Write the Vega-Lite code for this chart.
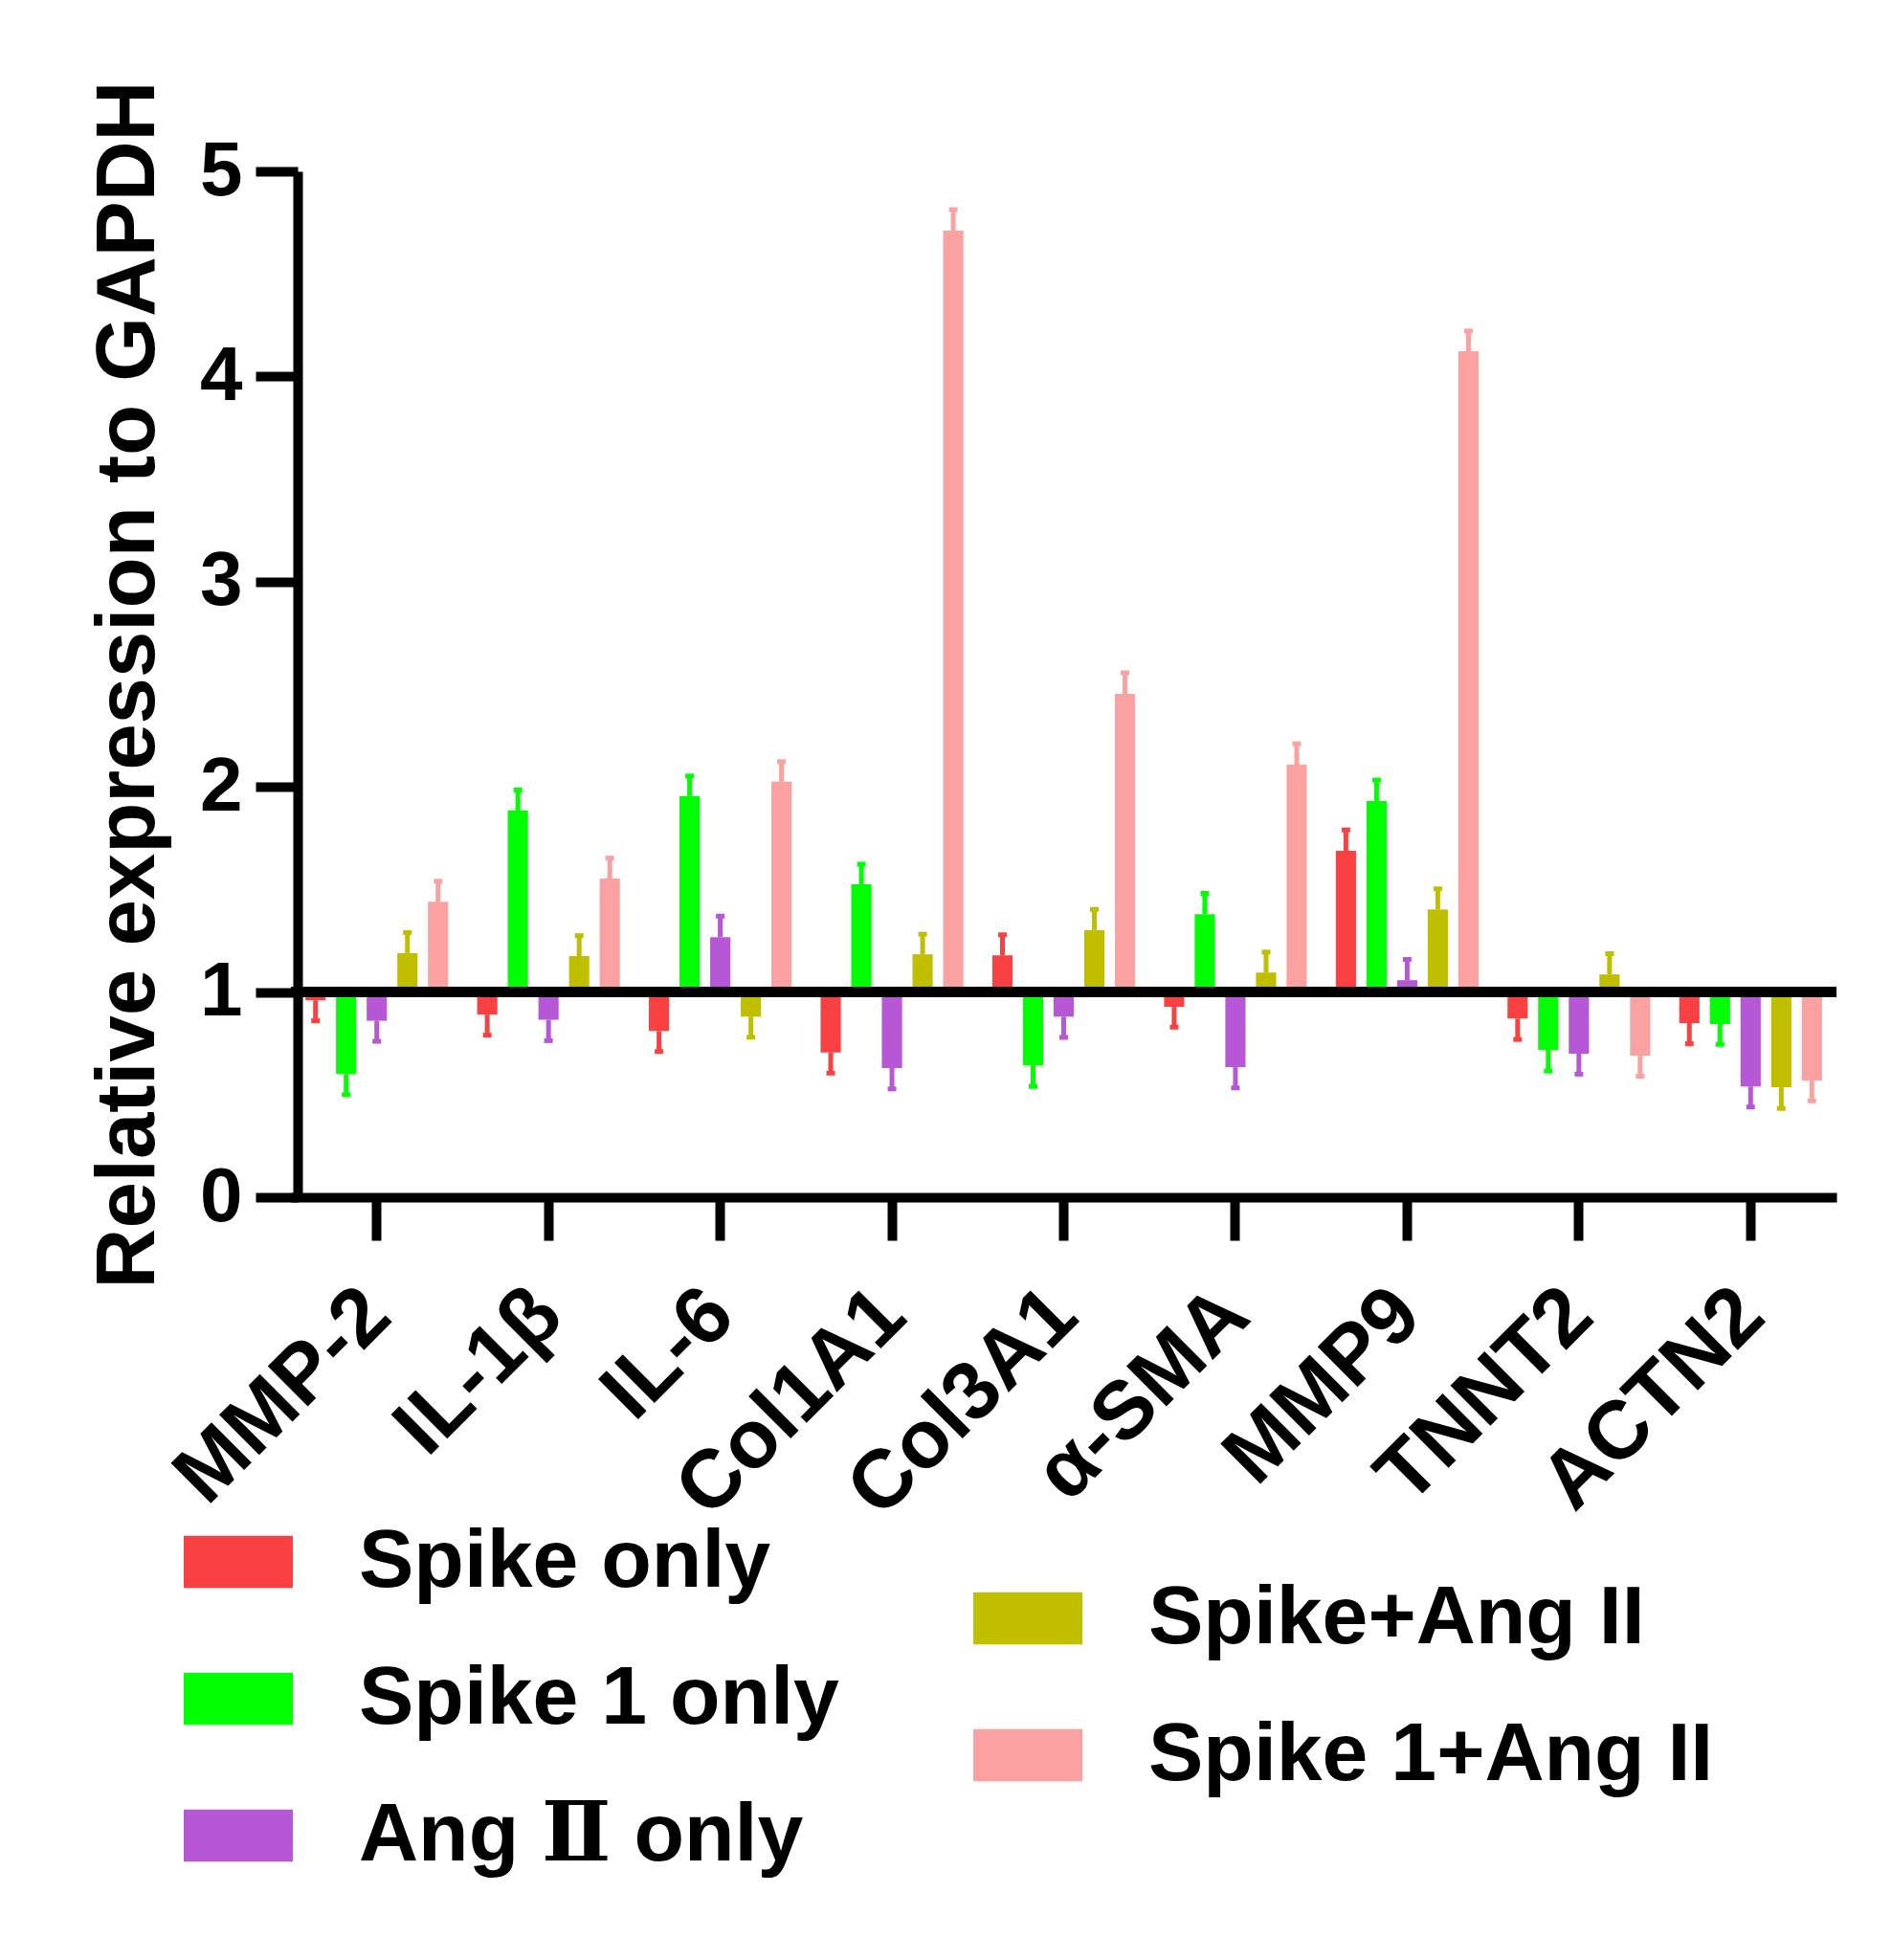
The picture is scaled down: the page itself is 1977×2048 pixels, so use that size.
{
  "$schema": "https://vega.github.io/schema/vega-lite/v6.json",
  "width": 1615,
  "height": 1072,
  "autosize": "none",
  "padding": {"left": 304, "top": 179, "right": 58, "bottom": 797},
  "background": "white",
  "config": {"view": {"stroke": null}, "font": "Liberation Sans"},
  "data": {
    "values": [
      {"gene": "MMP-2", "group": "Spike only", "value": 0.96, "cap": 0.86},
      {"gene": "MMP-2", "group": "Spike 1 only", "value": 0.60, "cap": 0.50},
      {"gene": "MMP-2", "group": "Ang Ⅱ only", "value": 0.86, "cap": 0.76},
      {"gene": "MMP-2", "group": "Spike+Ang II", "value": 1.19, "cap": 1.29},
      {"gene": "MMP-2", "group": "Spike 1+Ang II", "value": 1.44, "cap": 1.54},
      {"gene": "IL-1β", "group": "Spike only", "value": 0.89, "cap": 0.79},
      {"gene": "IL-1β", "group": "Spike 1 only", "value": 1.885, "cap": 1.985},
      {"gene": "IL-1β", "group": "Ang Ⅱ only", "value": 0.865, "cap": 0.763},
      {"gene": "IL-1β", "group": "Spike+Ang II", "value": 1.175, "cap": 1.275},
      {"gene": "IL-1β", "group": "Spike 1+Ang II", "value": 1.553, "cap": 1.653},
      {"gene": "IL-6", "group": "Spike only", "value": 0.81, "cap": 0.71},
      {"gene": "IL-6", "group": "Spike 1 only", "value": 1.955, "cap": 2.053},
      {"gene": "IL-6", "group": "Ang Ⅱ only", "value": 1.268, "cap": 1.37},
      {"gene": "IL-6", "group": "Spike+Ang II", "value": 0.88, "cap": 0.78},
      {"gene": "IL-6", "group": "Spike 1+Ang II", "value": 2.025, "cap": 2.123},
      {"gene": "Col1A1", "group": "Spike only", "value": 0.705, "cap": 0.605},
      {"gene": "Col1A1", "group": "Spike 1 only", "value": 1.525, "cap": 1.623},
      {"gene": "Col1A1", "group": "Ang Ⅱ only", "value": 0.63, "cap": 0.528},
      {"gene": "Col1A1", "group": "Spike+Ang II", "value": 1.184, "cap": 1.282},
      {"gene": "Col1A1", "group": "Spike 1+Ang II", "value": 4.711, "cap": 4.813},
      {"gene": "Col3A1", "group": "Spike only", "value": 1.179, "cap": 1.279},
      {"gene": "Col3A1", "group": "Spike 1 only", "value": 0.643, "cap": 0.54},
      {"gene": "Col3A1", "group": "Ang Ⅱ only", "value": 0.88, "cap": 0.779},
      {"gene": "Col3A1", "group": "Spike+Ang II", "value": 1.302, "cap": 1.403},
      {"gene": "Col3A1", "group": "Spike 1+Ang II", "value": 2.453, "cap": 2.556},
      {"gene": "α-SMA", "group": "Spike only", "value": 0.928, "cap": 0.829},
      {"gene": "α-SMA", "group": "Spike 1 only", "value": 1.38, "cap": 1.481},
      {"gene": "α-SMA", "group": "Ang Ⅱ only", "value": 0.634, "cap": 0.533},
      {"gene": "α-SMA", "group": "Spike+Ang II", "value": 1.095, "cap": 1.195},
      {"gene": "α-SMA", "group": "Spike 1+Ang II", "value": 2.108, "cap": 2.21},
      {"gene": "MMP9", "group": "Spike only", "value": 1.688, "cap": 1.79},
      {"gene": "MMP9", "group": "Spike 1 only", "value": 1.931, "cap": 2.033},
      {"gene": "MMP9", "group": "Ang Ⅱ only", "value": 1.058, "cap": 1.159},
      {"gene": "MMP9", "group": "Spike+Ang II", "value": 1.403, "cap": 1.503},
      {"gene": "MMP9", "group": "Spike 1+Ang II", "value": 4.123, "cap": 4.222},
      {"gene": "TNNT2", "group": "Spike only", "value": 0.871, "cap": 0.769},
      {"gene": "TNNT2", "group": "Spike 1 only", "value": 0.718, "cap": 0.615},
      {"gene": "TNNT2", "group": "Ang Ⅱ only", "value": 0.70, "cap": 0.60},
      {"gene": "TNNT2", "group": "Spike+Ang II", "value": 1.086, "cap": 1.187},
      {"gene": "TNNT2", "group": "Spike 1+Ang II", "value": 0.69, "cap": 0.59},
      {"gene": "ACTN2", "group": "Spike only", "value": 0.849, "cap": 0.748},
      {"gene": "ACTN2", "group": "Spike 1 only", "value": 0.844, "cap": 0.745},
      {"gene": "ACTN2", "group": "Ang Ⅱ only", "value": 0.54, "cap": 0.44},
      {"gene": "ACTN2", "group": "Spike+Ang II", "value": 0.536, "cap": 0.433},
      {"gene": "ACTN2", "group": "Spike 1+Ang II", "value": 0.569, "cap": 0.47}
    ]
  },
  "resolve": {"scale": {"color": "independent"}},
  "layer": [
    {
      "transform": [{"filter": {"field": "group", "oneOf": ["Spike only", "Spike 1 only", "Ang Ⅱ only"]}}],
      "encoding": {
        "x": {
          "field": "gene", "type": "nominal",
          "scale": {"domain": ["MMP-2", "IL-1β", "IL-6", "Col1A1", "Col3A1", "α-SMA", "MMP9", "TNNT2", "ACTN2"], "paddingInner": 0, "paddingOuter": 0},
          "axis": {"title": null, "labelAngle": -45, "labelAlign": "right", "labelBaseline": "middle", "labelFont": "Liberation Sans", "labelFontWeight": "bold", "labelFontSize": 86, "labelColor": "black", "labelPadding": 64, "labelLimit": 0, "tickSize": 45, "tickWidth": 10, "tickColor": "black", "domainWidth": 10, "domainColor": "black", "grid": false}
        },
        "xOffset": {"field": "group", "type": "nominal", "scale": {"domain": ["Spike only", "Spike 1 only", "Ang Ⅱ only", "Spike+Ang II", "Spike 1+Ang II"], "paddingInner": 0.34, "paddingOuter": 0.473}},
        "color": {
          "field": "group", "type": "nominal",
          "scale": {"domain": ["Spike only", "Spike 1 only", "Ang Ⅱ only"], "range": ["#F94144", "#00FF00", "#B658D6"]},
          "legend": {"orient": "none", "legendX": -112, "legendY": 1396, "title": null, "padding": 0, "symbolType": "M-1,-0.48L1,-0.48L1,0.48L-1,0.48Z", "symbolSize": 12996, "symbolStrokeWidth": 0, "labelFont": "Liberation Sans, DejaVu Serif", "labelFontWeight": "bold", "labelFontSize": 86, "labelColor": "black", "labelOffset": 69, "rowPadding": 43, "labelLimit": 0}
        }
      },
      "layer": [
        {
          "mark": {"type": "bar", "opacity": 1},
          "encoding": {
            "y": {"field": "value", "type": "quantitative", "scale": {"domain": [0, 5], "nice": false},
              "axis": {"values": [0, 1, 2, 3, 4, 5], "format": "d", "offset": -7, "title": "Relative expression to GAPDH", "titleFont": "Liberation Sans", "titleFontWeight": "bold", "titleFontSize": 87, "titleColor": "black", "titleAngle": -90, "titleAlign": "center", "titleBaseline": "alphabetic", "titleX": -151, "titleY": 536, "labelFont": "Liberation Sans", "labelFontWeight": "bold", "labelFontSize": 80, "labelColor": "black", "labelPadding": 14, "tickSize": 44, "tickWidth": 10, "tickColor": "black", "domainWidth": 10, "domainColor": "black", "grid": false}},
            "y2": {"datum": 1}
          }
        },
        {
          "mark": {"type": "rule", "strokeWidth": 5},
          "encoding": {"y": {"field": "value", "type": "quantitative"}, "y2": {"field": "cap"}}
        },
        {
          "mark": {"type": "tick", "size": 9, "thickness": 5, "opacity": 1},
          "encoding": {"y": {"field": "cap", "type": "quantitative"}}
        }
      ]
    },
    {
      "transform": [{"filter": {"field": "group", "oneOf": ["Spike+Ang II", "Spike 1+Ang II"]}}],
      "encoding": {
        "x": {
          "field": "gene", "type": "nominal",
          "scale": {"domain": ["MMP-2", "IL-1β", "IL-6", "Col1A1", "Col3A1", "α-SMA", "MMP9", "TNNT2", "ACTN2"], "paddingInner": 0, "paddingOuter": 0},
          "axis": {"title": null, "labelAngle": -45, "labelAlign": "right", "labelBaseline": "middle", "labelFont": "Liberation Sans", "labelFontWeight": "bold", "labelFontSize": 86, "labelColor": "black", "labelPadding": 64, "labelLimit": 0, "tickSize": 45, "tickWidth": 10, "tickColor": "black", "domainWidth": 10, "domainColor": "black", "grid": false}
        },
        "xOffset": {"field": "group", "type": "nominal", "scale": {"domain": ["Spike only", "Spike 1 only", "Ang Ⅱ only", "Spike+Ang II", "Spike 1+Ang II"], "paddingInner": 0.34, "paddingOuter": 0.473}},
        "color": {
          "field": "group", "type": "nominal",
          "scale": {"domain": ["Spike+Ang II", "Spike 1+Ang II"], "range": ["#BFBF00", "#FCA1A1"]},
          "legend": {"orient": "none", "legendX": 713, "legendY": 1455, "title": null, "padding": 0, "symbolType": "M-1,-0.48L1,-0.48L1,0.48L-1,0.48Z", "symbolSize": 12996, "symbolStrokeWidth": 0, "labelFont": "Liberation Sans", "labelFontWeight": "bold", "labelFontSize": 86, "labelColor": "black", "labelOffset": 69, "rowPadding": 43, "labelLimit": 0}
        }
      },
      "layer": [
        {
          "mark": {"type": "bar", "opacity": 1},
          "encoding": {
            "y": {"field": "value", "type": "quantitative", "scale": {"domain": [0, 5], "nice": false},
              "axis": {"values": [0, 1, 2, 3, 4, 5], "format": "d", "offset": -7, "title": "Relative expression to GAPDH", "titleFont": "Liberation Sans", "titleFontWeight": "bold", "titleFontSize": 87, "titleColor": "black", "titleAngle": -90, "titleAlign": "center", "titleBaseline": "alphabetic", "titleX": -151, "titleY": 536, "labelFont": "Liberation Sans", "labelFontWeight": "bold", "labelFontSize": 80, "labelColor": "black", "labelPadding": 14, "tickSize": 44, "tickWidth": 10, "tickColor": "black", "domainWidth": 10, "domainColor": "black", "grid": false}},
            "y2": {"datum": 1}
          }
        },
        {
          "mark": {"type": "rule", "strokeWidth": 5},
          "encoding": {"y": {"field": "value", "type": "quantitative"}, "y2": {"field": "cap"}}
        },
        {
          "mark": {"type": "tick", "size": 9, "thickness": 5, "opacity": 1},
          "encoding": {"y": {"field": "cap", "type": "quantitative"}}
        }
      ]
    },
    {
      "mark": {"type": "rule", "color": "black", "strokeWidth": 10},
      "encoding": {"y": {"datum": 1}}
    }
  ]
}
